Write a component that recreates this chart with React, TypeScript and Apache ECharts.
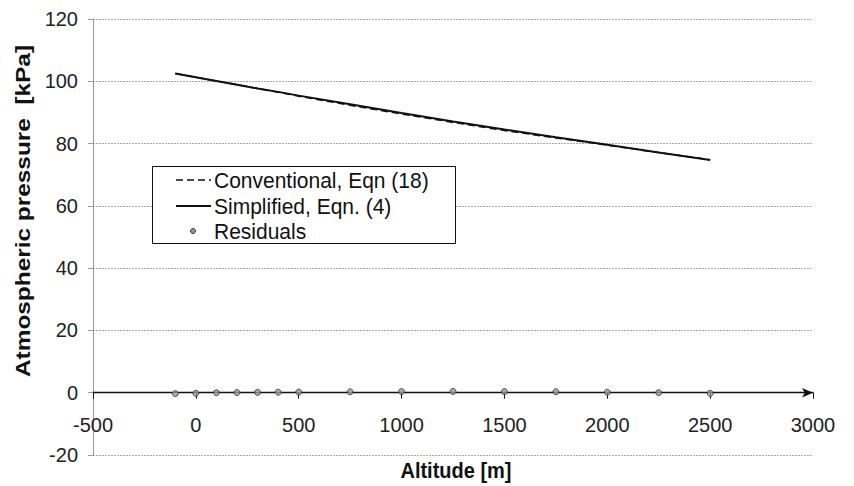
import React, { useEffect, useRef } from "react";
import * as echarts from "echarts";

const altitudes = [-100, 0, 100, 200, 300, 400, 500, 750, 1000, 1250, 1500, 1750, 2000, 2250, 2500];
const conventional = [102.5, 101.3, 100.1, 98.9, 97.7, 96.5, 95.2, 92.3, 89.5, 86.8, 84.2, 81.8, 79.5, 77.1, 74.8];
const simplified = [102.5, 101.3, 100.1, 98.9, 97.7, 96.6, 95.4, 92.6, 89.8, 87.1, 84.5, 82.0, 79.6, 77.1, 74.7];
const residuals = [-0.3, -0.2, 0.0, 0.05, 0.1, 0.15, 0.2, 0.3, 0.35, 0.4, 0.35, 0.3, 0.15, 0.0, -0.2];

const legendNames = ["Conventional, Eqn (18)", "Simplified, Eqn. (4)", "Residuals"];
const xTitle = "Altitude [m]";
const yTitle = "Atmospheric pressure  [kPa]";

const FONT = "Liberation Sans, Arial, Helvetica, sans-serif";

export default function App() {
  const ref = useRef<HTMLDivElement>(null);
  useEffect(() => {
    if (!ref.current) return;
    const chart = echarts.init(ref.current, null, { renderer: "svg" });
    const pairs = (ys: number[]) => altitudes.map((x, i) => [x, ys[i]]);
    const gridTop = 19;
    const gridBottom = 31;
    const gridH = 486 - gridTop - gridBottom;
    const yMin = -20;
    const yMax = 120;
    const zeroOffset = -(gridH * (0 - yMin)) / (yMax - yMin);
    chart.setOption({
      animation: false,
      grid: { left: 93, top: gridTop, right: 41, bottom: gridBottom, containLabel: false },
      xAxis: {
        type: "value",
        min: -500,
        max: 3000,
        interval: 500,
        offset: zeroOffset,
        axisLine: {
          onZero: false,
          lineStyle: { color: "#111", width: 1.3 },
          symbol: ["none", "arrow"],
          symbolSize: [7, 11],
        },
        axisTick: { show: true, length: 6, lineStyle: { color: "#111" } },
        axisLabel: {
          fontFamily: FONT,
          fontSize: 20,
          color: "#222",
          margin: 22,
          formatter: (v: number) => String(v),
        },
        splitLine: { show: false },
      },
      yAxis: {
        type: "value",
        min: yMin,
        max: yMax,
        interval: 20,
        axisLine: { show: true, onZero: false, lineStyle: { color: "#999", width: 1 } },
        axisTick: { show: true, length: 5, lineStyle: { color: "#999" } },
        axisLabel: {
          fontFamily: FONT,
          fontSize: 20,
          color: "#222",
          margin: 15,
          formatter: (v: number) => String(v),
        },
        splitLine: { show: true, lineStyle: { color: "#aaa", type: [2, 1], width: 1 } },
      },
      series: [
        {
          name: legendNames[0],
          type: "line",
          data: pairs(conventional),
          showSymbol: false,
          symbol: "none",
          lineStyle: { color: "#111", width: 1.5, type: [7, 4] },
          z: 3,
        },
        {
          name: legendNames[1],
          type: "line",
          data: pairs(simplified),
          showSymbol: false,
          symbol: "none",
          lineStyle: { color: "#111", width: 2 },
          z: 2,
        },
        {
          name: legendNames[2],
          type: "scatter",
          data: pairs(residuals),
          symbol: "circle",
          symbolSize: 6,
          itemStyle: { color: "#999", borderColor: "#333", borderWidth: 1 },
          z: 4,
        },
      ],
      graphic: [
        {
          type: "rect",
          shape: { x: 152.5, y: 166.5, width: 303, height: 77 },
          style: { fill: "#fff", stroke: "#111", lineWidth: 1 },
          z: 10,
        },
        {
          type: "line",
          shape: { x1: 176, y1: 180, x2: 211, y2: 180 },
          style: { stroke: "#111", lineWidth: 1.5, lineDash: [7, 4] },
          z: 11,
        },
        {
          type: "line",
          shape: { x1: 176, y1: 206, x2: 211, y2: 206 },
          style: { stroke: "#111", lineWidth: 2 },
          z: 11,
        },
        {
          type: "circle",
          shape: { cx: 193, cy: 231, r: 2.5 },
          style: { fill: "#999", stroke: "#333", lineWidth: 1 },
          z: 11,
        },
        {
          type: "text",
          x: 214,
          y: 180,
          scaleY: 1.08,
          style: { text: legendNames[0], font: `21px ${FONT}`, fill: "#111", textVerticalAlign: "middle" },
          z: 11,
        },
        {
          type: "text",
          x: 214,
          y: 206,
          scaleY: 1.08,
          style: { text: legendNames[1], font: `21px ${FONT}`, fill: "#111", textVerticalAlign: "middle" },
          z: 11,
        },
        {
          type: "text",
          x: 214,
          y: 231,
          scaleY: 1.08,
          style: { text: legendNames[2], font: `21px ${FONT}`, fill: "#111", textVerticalAlign: "middle" },
          z: 11,
        },
        {
          type: "text",
          x: 456,
          y: 470,
          scaleY: 1.1,
          style: {
            text: xTitle,
            font: `bold 20px ${FONT}`,
            fill: "#111",
            textAlign: "center",
            textVerticalAlign: "middle",
          },
        },
        {
          type: "text",
          x: 23,
          y: 211,
          rotation: Math.PI / 2,
          scaleX: 1.22,
          style: {
            text: yTitle,
            font: `bold 20px ${FONT}`,
            fill: "#111",
            textAlign: "center",
            textVerticalAlign: "middle",
          },
        },
      ],
    });
    return () => chart.dispose();
  }, []);
  return <div ref={ref} style={{ width: 854, height: 486, position: "absolute", left: 0, top: 0 }} />;
}
